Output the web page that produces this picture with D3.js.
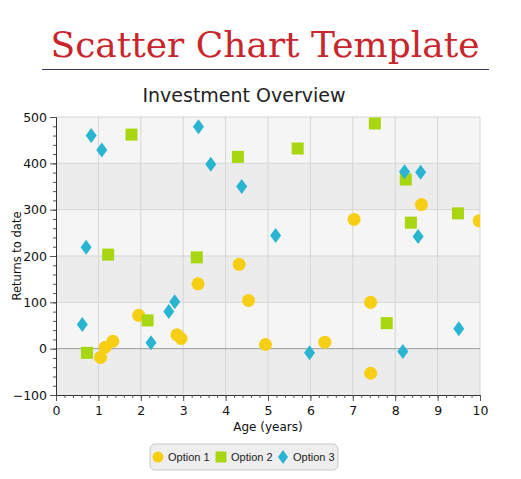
<!DOCTYPE html>
<html>
<head>
<meta charset="utf-8">
<script src="https://cdn.jsdelivr.net/npm/d3@7"></script>
<style>
  body { margin: 0; background: #fff; }
  svg text { font-family: "DejaVu Sans", Verdana, sans-serif; }
</style>
</head>
<body>
<div id="chart"></div>
<script>
// series data: [age, return]
const option1 = [[1.05,-19],[1.16,3],[1.34,16],[1.95,72],[2.85,30],[2.95,22],[3.35,140],[4.32,182],
  [4.54,104],[4.94,9],[6.34,14],[7.42,100],[7.42,-53],[7.03,279],[8.62,311],[9.98,276]];
const option2 = [[0.73,-9],[1.23,203],[1.78,462],[2.16,61],[3.32,197],[4.29,414],[5.70,432],
  [7.52,486],[8.25,365],[8.37,272],[9.48,292],[7.80,55]];
const option3 = [[0.83,460],[1.08,429],[3.36,479],[3.65,398],[4.38,350],[0.71,219],[0.62,52],
  [2.24,13],[2.66,80],[2.80,101],[5.18,244],[8.22,382],[8.60,381],[8.54,242],[5.98,-9],[8.18,-6],[9.50,43]];
const seriesNames = ['Option 1', 'Option 2', 'Option 3'];
const xTicks = d3.range(0, 11, 1);
const yTicks = d3.range(-100, 501, 100);

const W = 521, H = 479;
const svg = d3.select('#chart').append('svg').attr('width', W).attr('height', H);

// page title
svg.append('text')
  .attr('x', 265).attr('y', 57)
  .attr('text-anchor', 'middle')
  .style('font-family', '"DejaVu Serif", "Liberation Serif", serif')
  .style('font-size', '36px')
  .attr('fill', '#c9252c')
  .text('Scatter Chart Template');
svg.append('line')
  .attr('x1', 42).attr('x2', 489).attr('y1', 69.5).attr('y2', 69.5)
  .attr('stroke', '#3a3a60').attr('stroke-width', 1);

svg.append('text')
  .attr('x', 244).attr('y', 102)
  .attr('text-anchor', 'middle')
  .style('font-size', '19px')
  .attr('fill', '#222')
  .text('Investment Overview');

const x = d3.scaleLinear().domain([0, 10]).range([56, 480]);
const y = d3.scaleLinear().domain([-100, 500]).range([395, 117]);

// alternating bands
const bands = svg.append('g');
yTicks.slice(0, -1).forEach((v, i) => {
  bands.append('rect')
    .attr('x', x(0)).attr('width', x(10) - x(0))
    .attr('y', y(v + 100)).attr('height', y(v) - y(v + 100))
    .attr('fill', i % 2 === 0 ? '#ececec' : '#f5f5f5');
});

// grid
const grid = svg.append('g').attr('stroke', '#d6d6d6').attr('stroke-width', 1);
xTicks.slice(1).forEach(v => {
  grid.append('line').attr('x1', x(v)).attr('x2', x(v)).attr('y1', y(500)).attr('y2', y(-100));
});
yTicks.slice(1).forEach(v => {
  grid.append('line').attr('x1', x(0)).attr('x2', x(10)).attr('y1', y(v)).attr('y2', y(v))
    .attr('stroke', v === 0 ? '#9a9a9a' : null);
});

// axes
const xAxis = svg.append('g').attr('transform', `translate(0,${y(-100)})`)
  .call(d3.axisBottom(x).tickValues(xTicks).tickSize(6).tickPadding(5).tickFormat(d3.format('d')));
const xMinor = svg.append('g').attr('transform', `translate(0,${y(-100)})`)
  .call(d3.axisBottom(x).tickValues(d3.range(0, 10.01, 0.2)).tickSize(3).tickFormat(''));
const yAxis = svg.append('g').attr('transform', `translate(${x(0)},0)`)
  .call(d3.axisLeft(y).tickValues(yTicks).tickSize(6).tickPadding(3).tickFormat(d3.format('d')));
const yMinor = svg.append('g').attr('transform', `translate(${x(0)},0)`)
  .call(d3.axisLeft(y).tickValues(d3.range(-100, 501, 20)).tickSize(3).tickFormat(''));
[xAxis, xMinor, yAxis, yMinor].forEach(a => {
  a.selectAll('path').attr('stroke', '#333');
  a.selectAll('line').attr('stroke', '#555');
  a.selectAll('text').style('font-size', '12.5px').attr('fill', '#111')
    .style('font-family', '"DejaVu Sans", sans-serif');
});
xMinor.select('path').remove();
yMinor.select('path').remove();

svg.append('text')
  .attr('x', 268).attr('y', 431)
  .attr('text-anchor', 'middle')
  .style('font-size', '12px').attr('fill', '#111')
  .text('Age (years)');
svg.append('text')
  .attr('transform', `translate(21,256) rotate(-90)`)
  .attr('text-anchor', 'middle')
  .style('font-size', '11.5px').attr('fill', '#111')
  .text('Returns to date');

// points
svg.append('clipPath').attr('id', 'plot-clip')
  .append('rect').attr('x', x(0)).attr('y', y(500) - 8).attr('width', x(10) - x(0)).attr('height', y(-100) - y(500) + 8);
const pts = svg.append('g').attr('clip-path', 'url(#plot-clip)');

const colors = ['#f6cf14', '#a8d610', '#29b5d2'];

function drawShape(sel, i) {
  if (i === 0) sel.append('circle').attr('r', 6.5).attr('fill', colors[0]);
  else if (i === 1) sel.append('rect').attr('x', -6).attr('y', -6).attr('width', 12).attr('height', 12).attr('fill', colors[1]);
  else sel.append('path').attr('d', 'M0,-7.5L5.5,0L0,7.5L-5.5,0Z').attr('fill', colors[2]);
}

[option1, option2, option3].forEach((data, i) => {
  pts.selectAll('.s' + i)
    .data(data)
    .enter()
    .append('g')
    .attr('class', 's' + i)
    .attr('transform', d => `translate(${x(d[0])},${y(d[1])})`)
    .each(function() { drawShape(d3.select(this), i); });
});

// legend
const legend = svg.append('g');
legend.append('rect')
  .attr('x', 150).attr('y', 444).attr('width', 188).attr('height', 26)
  .attr('rx', 5)
  .attr('fill', '#eeeeee').attr('stroke', '#c8c8c8');
const legX = [157, 220, 282];
seriesNames.forEach((name, i) => {
  const g = legend.append('g').attr('transform', `translate(${legX[i] + 1},457)`);
  drawShape(g, i);
  g.select('circle').attr('r', 5.5);
  g.select('rect').attr('x', -5.5).attr('y', -5.5).attr('width', 11).attr('height', 11);
  g.select('path').attr('d', 'M0,-7L5,0L0,7L-5,0Z');
  legend.append('text')
    .attr('x', legX[i] + 11).attr('y', 461)
    .style('font-family', '"Liberation Sans", Arial, sans-serif')
    .style('font-size', '11px').attr('fill', '#222')
    .text(name);
});
</script>
</body>
</html>
